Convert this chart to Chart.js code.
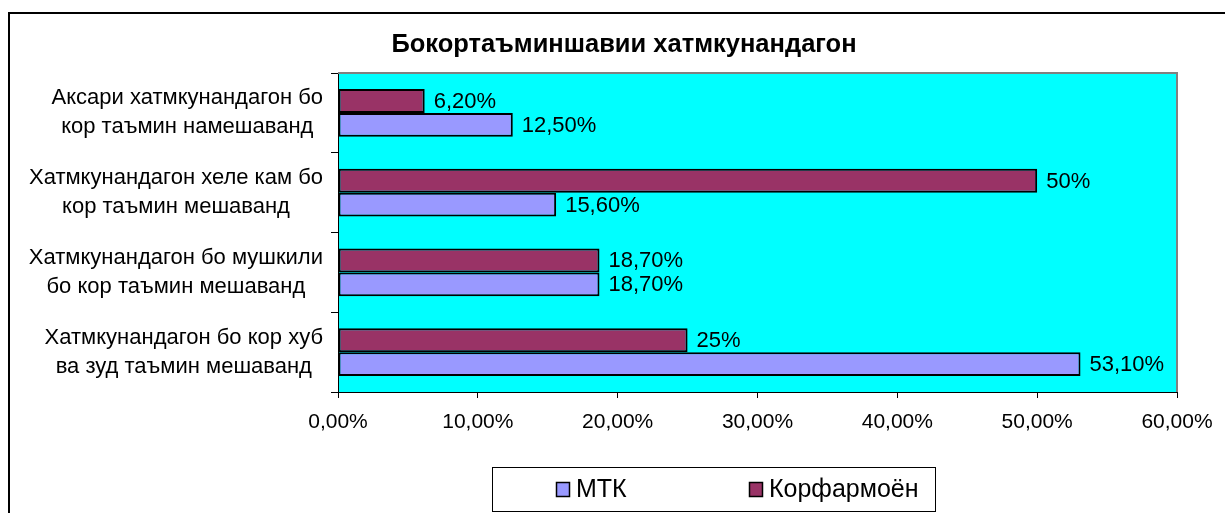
<!DOCTYPE html>
<html>
<head>
<meta charset="utf-8">
<script src="https://cdn.jsdelivr.net/npm/chart.js@4/dist/chart.umd.min.js"></script>
<style>
  html, body { margin: 0; padding: 0; background: #fff; overflow: hidden; }
  #frame { position: absolute; left: 8px; top: 12px; width: 1400px; height: 700px; border: 2px solid #000; box-sizing: border-box; }
  #wrap { position: absolute; left: 0; top: 0; width: 1225px; height: 513px; }
</style>
</head>
<body>
<div id="frame"></div>
<div id="wrap"><canvas id="c" width="1225" height="513"></canvas></div>
<script>
const titleText = "Бокортаъминшавии хатмкунандагон";
const categories = [
  ["Аксари хатмкунандагон бо", "кор таъмин намешаванд"],
  ["Хатмкунандагон хеле кам бо", "кор таъмин мешаванд"],
  ["Хатмкунандагон бо мушкили", "бо кор таъмин мешаванд"],
  ["Хатмкунандагон бо кор хуб", "ва зуд таъмин мешаванд"]
];
const seriesNames = ["МТК", "Корфармоён"];
const mtkValues = [12.5, 15.6, 18.7, 53.1];
const korfValues = [6.2, 50, 18.7, 25];
const xTickValues = [0, 10, 20, 30, 40, 50, 60];

const FONT = '"Liberation Sans", Arial, sans-serif';
const fmtLabel = v => Number.isInteger(v) ? v + '%' : v.toFixed(2).replace('.', ',') + '%';
const fmtTick = v => v.toFixed(2).replace('.', ',') + '%';

const decor = {
  id: 'decor',
  beforeDraw(chart) {
    const {ctx, chartArea: a} = chart;
    ctx.save();
    ctx.fillStyle = '#00FFFF';
    ctx.fillRect(a.left, a.top, a.right - a.left, a.bottom - a.top);
    ctx.restore();
  },
  beforeDatasetsDraw(chart) {
    const {ctx, chartArea: a} = chart;
    ctx.save();
    ctx.strokeStyle = '#808080';
    ctx.lineWidth = 2;
    ctx.beginPath();
    ctx.moveTo(a.left, a.top);
    ctx.lineTo(a.right, a.top);
    ctx.lineTo(a.right, a.bottom);
    ctx.stroke();
    ctx.restore();
  },
  afterDatasetsDraw(chart) {
    const {ctx} = chart;
    ctx.save();
    ctx.font = '22px ' + FONT;
    ctx.fillStyle = '#000';
    ctx.textAlign = 'left';
    ctx.textBaseline = 'middle';
    chart.data.datasets.forEach((ds, di) => {
      const meta = chart.getDatasetMeta(di);
      meta.data.forEach((el, i) => {
        ctx.fillText(fmtLabel(ds.data[i]), el.x + 9, el.y + 1);
      });
    });
    ctx.restore();
  },
  afterDraw(chart) {
    const {ctx} = chart;
    const yScale = chart.scales.y;
    ctx.save();
    // title
    ctx.font = 'bold 25.5px ' + FONT;
    ctx.fillStyle = '#000';
    ctx.textAlign = 'center';
    ctx.textBaseline = 'middle';
    ctx.fillText(titleText, 624, 45);
    // category labels: each block right-aligned, lines centered within block
    ctx.font = '22px ' + FONT;
    chart.data.labels.forEach((lines, i) => {
      const cy = yScale.getPixelForValue(i);
      const maxW = Math.max(...lines.map(l => ctx.measureText(l).width));
      const cx = 323 - maxW / 2;
      const lh = 29;
      const y0 = cy - lh * (lines.length - 1) / 2;
      lines.forEach((l, k) => ctx.fillText(l, cx, y0 + k * lh));
    });
    // legend
    ctx.strokeStyle = '#000';
    ctx.lineWidth = 1;
    ctx.strokeRect(492.5, 467.5, 443, 44);
    ctx.font = '25px ' + FONT;
    ctx.textAlign = 'left';
    const order = chart.data.datasets.map((d, i) => i).reverse();
    order.forEach((di, k) => {
      const ds = chart.data.datasets[di];
      const x = 556 + k * 193;
      ctx.fillStyle = ds.backgroundColor;
      ctx.fillRect(x, 482, 14, 15);
      ctx.strokeStyle = '#000';
      ctx.lineWidth = 1.5;
      ctx.strokeRect(x + 0.5, 482.5, 13, 14);
      ctx.fillStyle = '#000';
      ctx.fillText(ds.label, x + 20, 490);
    });
    ctx.restore();
  }
};

new Chart(document.getElementById('c'), {
  type: 'bar',
  data: {
    labels: categories,
    datasets: [
      { label: seriesNames[1], data: korfValues, backgroundColor: '#993366', borderColor: '#000', borderWidth: 2, borderSkipped: false },
      { label: seriesNames[0], data: mtkValues, backgroundColor: '#9999FF', borderColor: '#000', borderWidth: 2, borderSkipped: false }
    ]
  },
  options: {
    indexAxis: 'y',
    responsive: false,
    animation: false,
    devicePixelRatio: 1,
    layout: { padding: { left: 0, top: 73, right: 48, bottom: 61 } },
    datasets: { bar: { categoryPercentage: 0.6, barPercentage: 1.0 } },
    plugins: { legend: { display: false }, title: { display: false }, tooltip: { enabled: false } },
    scales: {
      x: {
        min: 0, max: 60,
        afterBuildTicks(s) { s.ticks = xTickValues.map(v => ({ value: v })); },
        afterFit(s) { s.height = 60; s.paddingLeft = 0; s.paddingRight = 0; },
        grid: { drawOnChartArea: false, drawTicks: true, tickLength: 6, color: '#000' },
        border: { display: true, color: '#000', width: 1 },
        ticks: {
          color: '#000', padding: 12,
          font: { family: FONT, size: 21 },
          callback: v => fmtTick(v)
        }
      },
      y: {
        afterFit(s) { s.width = 338; s.paddingTop = 0; s.paddingBottom = 0; },
        grid: { drawOnChartArea: false, drawTicks: true, tickLength: 7, color: '#000', offset: true },
        border: { display: true, color: '#000', width: 1 },
        ticks: { display: false }
      }
    }
  },
  plugins: [decor]
});
</script>
</body>
</html>
